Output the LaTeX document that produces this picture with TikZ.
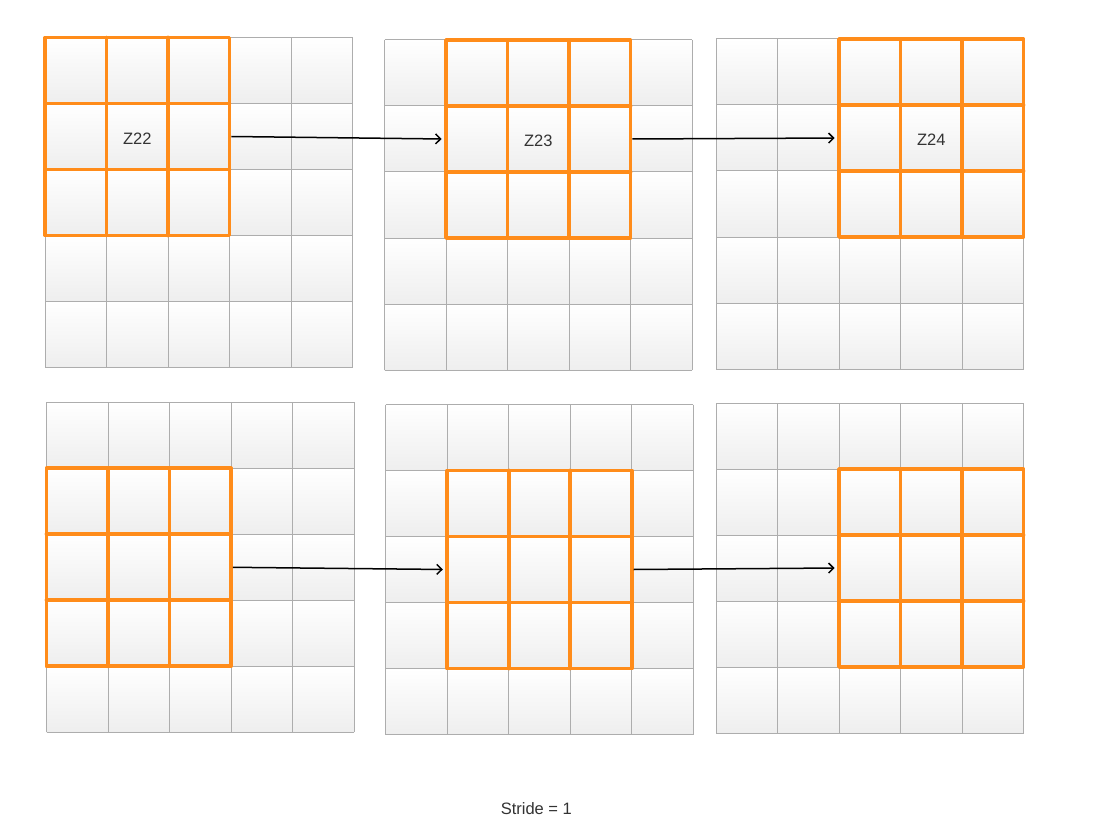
\documentclass[tikz,border=0pt]{standalone}
\usepackage{fontspec}
\setmainfont{Liberation Sans}
\usetikzlibrary{arrows.meta}
\definecolor{gridgrey}{HTML}{ADADAD}
\definecolor{cellbot}{HTML}{EEEEEE}
\definecolor{wingold}{HTML}{FF8C1A}
\definecolor{txtgrey}{HTML}{333333}
\newcommand\cellw{61.5}
\newcommand\cellh{66}
% #1 name, #2 x, #3 y, #4 window column, #5 window row
\newcommand\drawgrid[5]{%
  \foreach \i in {0,...,4}{\foreach \j in {0,...,4}{
    \path[cell] (#2+\i*\cellw, #3+\j*\cellh) rectangle ++(\cellw,\cellh);}}
  \foreach \k in {0,...,5}{
    \draw[gridline] (#2+\k*\cellw,#3) -- ++(0,5*\cellh);
    \draw[gridline] (#2,#3+\k*\cellh) -- ++(5*\cellw,0);}
  \draw[winline] (#2+#4*\cellw+\cellw, #3+#5*\cellh) -- ++(0,3*\cellh);
  \draw[winline] (#2+#4*\cellw+2*\cellw, #3+#5*\cellh) -- ++(0,3*\cellh);
  \draw[winline] (#2+#4*\cellw, #3+#5*\cellh+\cellh) -- ++(3*\cellw,0);
  \draw[winline] (#2+#4*\cellw, #3+#5*\cellh+2*\cellh) -- ++(3*\cellw,0);
  \node[window] (#1) at (#2+#4*\cellw+1.5*\cellw, #3+#5*\cellh+1.5*\cellh) {};
}
\tikzset{
  cell/.style={top color=white, bottom color=cellbot},
  gridline/.style={draw=gridgrey, line width=1pt},
  winline/.style={draw=wingold, line width=3.8pt, line cap=round},
  window/.style={draw=wingold, line width=3.8pt, line join=round, rectangle,
    minimum width=184.5pt, minimum height=198pt, inner sep=0pt},
  lbl/.style={text=txtgrey, font=\fontsize{16.5}{19}\selectfont, inner sep=0pt},
  arr/.style={draw=black, line width=1.5pt, -{Straight Barb[length=5pt,width=10pt]}, shorten >=2.5pt}
}
\begin{document}
\begin{tikzpicture}[x=1pt, y=-1pt]
\fill[white] (0,0) rectangle (1096,824);
\useasboundingbox (0,0) rectangle (1096,824);
\drawgrid{w1}{45}{37.5}{0}{0}
\drawgrid{w2}{384.5}{40}{1}{0}
\drawgrid{w3}{716}{39}{2}{0}
\drawgrid{w4}{46.5}{402.3}{0}{1}
\drawgrid{w5}{385.7}{404.5}{1}{1}
\drawgrid{w6}{716}{403}{2}{1}
\node[lbl, yshift=-1.8pt] (t1) at (w1) {Z22};
\node[lbl, yshift=-1.8pt] (t2) at (w2) {Z23};
\node[lbl, yshift=-1.8pt] (t3) at (w3) {Z24};
\draw[arr] (w1.east) -- (w2.west);
\draw[arr] (w2.east) -- (w3.west);
\draw[arr] (w4.east) -- (w5.west);
\draw[arr] (w5.east) -- (w6.west);
\node[lbl] (stride) at (536.3,808.3) {Stride = 1};
\end{tikzpicture}
\end{document}
